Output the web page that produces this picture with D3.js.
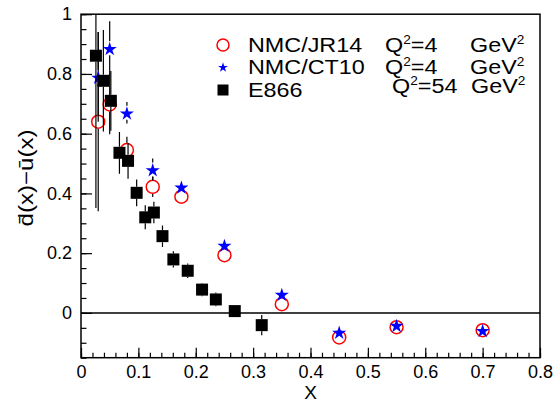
<!DOCTYPE html>
<html>
<head>
<meta charset="utf-8">
<script src="https://cdn.jsdelivr.net/npm/d3@7"></script>
<style>
  body { margin: 0; background: #fff; }
  text { font-family: "Liberation Sans", Arial, sans-serif; }
</style>
</head>
<body>
<svg width="557" height="403"></svg>
<script>
// NMC/JR14 (open red circles)
const jrX = [0.03, 0.05, 0.08, 0.125, 0.175, 0.25, 0.35, 0.45, 0.55, 0.70];
const jrY = [0.640, 0.698, 0.545, 0.422, 0.389, 0.193, 0.029, -0.082, -0.048, -0.058];
const jrErr = [0.30, 0.10, 0.045, 0.034, 0.012, 0.01, 0.008, 0.006, 0.006, 0.006];
// NMC/CT10 (blue stars)
const ctX = [0.03, 0.05, 0.08, 0.125, 0.175, 0.25, 0.35, 0.45, 0.55, 0.70];
const ctY = [0.790, 0.886, 0.670, 0.480, 0.422, 0.227, 0.063, -0.064, -0.041, -0.058];
const ctErr = [0.15, 0.09, 0.036, 0.037, 0.012, 0.01, 0.008, 0.006, 0.006, 0.006];
// E866 (black squares)
const e866X = [0.026, 0.039, 0.052, 0.067, 0.082, 0.097, 0.112, 0.127, 0.142, 0.161, 0.186, 0.211, 0.235, 0.268, 0.315];
const e866Y = [0.861, 0.777, 0.710, 0.536, 0.509, 0.402, 0.320, 0.336, 0.257, 0.179, 0.141, 0.078, 0.045, 0.006, -0.041];
const e866Err = [0.51, 0.17, 0.10, 0.07, 0.06, 0.045, 0.04, 0.036, 0.036, 0.027, 0.024, 0.022, 0.023, 0.015, 0.034];

const xMajor = [0, 0.1, 0.2, 0.3, 0.4, 0.5, 0.6, 0.7, 0.8];
const yMajor = [0, 0.2, 0.4, 0.6, 0.8, 1];

const svg = d3.select("svg");
const x = d3.scaleLinear().domain([0, 0.8]).range([81, 540]);
const y = d3.scaleLinear().domain([-0.15, 1]).range([357.7, 14.2]);

svg.append("defs").append("clipPath").attr("id", "plot")
  .append("rect")
  .attr("x", x(0)).attr("y", y(1))
  .attr("width", x(0.8) - x(0)).attr("height", y(-0.15) - y(1));

// frame
svg.append("rect")
  .attr("x", x(0)).attr("y", y(1))
  .attr("width", x(0.8) - x(0)).attr("height", y(-0.15) - y(1))
  .attr("fill", "none").attr("stroke", "#000").attr("stroke-width", 1.5);

// zero line
svg.append("line")
  .attr("x1", x(0)).attr("x2", x(0.8))
  .attr("y1", y(0)).attr("y2", y(0))
  .attr("stroke", "#000").attr("stroke-width", 1.5);

// Y axis
const yAxis = svg.append("g")
  .attr("transform", `translate(${x(0)},0)`)
  .call(d3.axisLeft(y).tickValues(yMajor).tickSize(-11).tickPadding(9).tickFormat(d3.format("")));
yAxis.select(".domain").remove();
const yMinor = svg.append("g")
  .attr("transform", `translate(${x(0)},0)`)
  .call(d3.axisLeft(y).tickValues(d3.range(-3, 21).map(i => i * 0.05)).tickSize(-5.5).tickFormat(""));
yMinor.select(".domain").remove();

// X axis
const xAxis = svg.append("g")
  .attr("transform", `translate(0,${y(-0.15)})`)
  .call(d3.axisBottom(x).tickValues(xMajor).tickSize(-10).tickPadding(7.5).tickFormat(d3.format("")));
xAxis.select(".domain").remove();
const xMinor = svg.append("g")
  .attr("transform", `translate(0,${y(-0.15)})`)
  .call(d3.axisBottom(x).tickValues(d3.range(0, 41).map(i => i * 0.02)).tickSize(-5).tickFormat(""));
xMinor.select(".domain").remove();

svg.selectAll(".tick line").attr("stroke-width", 1.2);
svg.selectAll(".tick text").style("font-size", "18px").attr("fill", "#000");

// axis titles
svg.append("text")
  .attr("x", x(0.4)).attr("y", 399)
  .attr("text-anchor", "middle")
  .style("font-size", "19px")
  .text("X");

svg.append("text")
  .attr("transform", `translate(33,178) rotate(-90)`)
  .attr("text-anchor", "middle")
  .attr("textLength", 97).attr("lengthAdjust", "spacingAndGlyphs")
  .style("font-size", "20px")
  .text("d\u0304(x)\u2212u\u0304(x)");

// error bars with a gap around the marker
function errBars(g, xs, ys, es, gap) {
  const segs = [];
  xs.forEach((xv, i) => {
    const px = x(xv), py = y(ys[i]);
    const top = y(ys[i] + es[i]), bot = y(ys[i] - es[i]);
    if (py - top > gap) segs.push([px, top, px, py - gap]);
    if (bot - py > gap) segs.push([px, py + gap, px, bot]);
  });
  g.selectAll(null).data(segs).enter().append("line")
    .attr("x1", d => d[0]).attr("y1", d => d[1])
    .attr("x2", d => d[2]).attr("y2", d => d[3])
    .attr("stroke", "#000").attr("stroke-width", 1.2);
}

const plot = svg.append("g").attr("clip-path", "url(#plot)");

// JR14
errBars(plot, jrX, jrY, jrErr, 7);
plot.selectAll(null).data(jrX).enter().append("circle")
  .attr("cx", d => x(d)).attr("cy", (d, i) => y(jrY[i]))
  .attr("r", 6.5)
  .attr("fill", "none").attr("stroke", "#ff0000").attr("stroke-width", 1.5);

// CT10
const star = d3.symbol(d3.symbolStar).size(62);
errBars(plot, ctX, ctY, ctErr, 7);
plot.selectAll(null).data(ctX).enter().append("path")
  .attr("d", star)
  .attr("transform", (d, i) => `translate(${x(d)},${y(ctY[i]) + 1})`)
  .attr("fill", "#0000ff");

// E866
errBars(plot, e866X, e866Y, e866Err, 6);
plot.selectAll(null).data(e866X).enter().append("rect")
  .attr("x", d => x(d) - 6).attr("y", (d, i) => y(e866Y[i]) - 6)
  .attr("width", 12).attr("height", 12)
  .attr("fill", "#000");

// legend
const legend = svg.append("g");
legend.append("circle").attr("cx", 223).attr("cy", 45).attr("r", 6)
  .attr("fill", "none").attr("stroke", "#ff0000").attr("stroke-width", 1.5);
legend.append("path").attr("d", d3.symbol(d3.symbolStar).size(30))
  .attr("transform", "translate(223,67.5)").attr("fill", "#0000ff");
legend.append("rect").attr("x", 217.5).attr("y", 84.5).attr("width", 11).attr("height", 11).attr("fill", "#000");

function legendText(px, py, parts) {
  const t = legend.append("text")
    .attr("transform", `translate(${px},${py}) scale(1.14,1)`)
    .style("font-size", "20.5px");
  let shift = 0;
  parts.forEach(p => {
    if (p.sup) {
      t.append("tspan").attr("dy", -8).style("font-size", "12px").text(p.sup);
      shift = 8;
    } else {
      t.append("tspan").attr("dy", shift).text(p.t);
      shift = 0;
    }
  });
}
legendText(248, 52, [{ t: "NMC/JR14" }]);
legendText(248, 74, [{ t: "NMC/CT10" }]);
legendText(248, 97, [{ t: "E866" }]);
legendText(385, 52, [{ t: "Q" }, { sup: "2" }, { t: "=4" }]);
legendText(470, 52, [{ t: "GeV" }, { sup: "2" }]);
legendText(385, 74, [{ t: "Q" }, { sup: "2" }, { t: "=4" }]);
legendText(470, 74, [{ t: "GeV" }, { sup: "2" }]);
legendText(392, 93, [{ t: "Q" }, { sup: "2" }, { t: "=54" }]);
legendText(471, 93, [{ t: "GeV" }, { sup: "2" }]);
</script>
</body>
</html>
